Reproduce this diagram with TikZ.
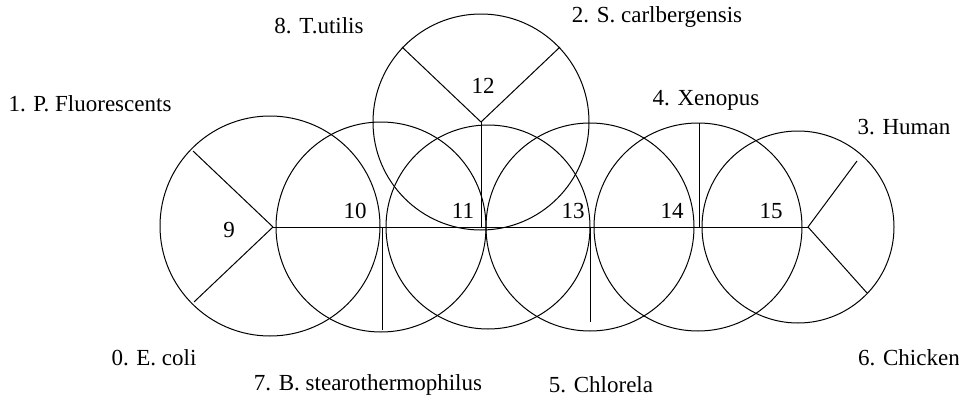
\documentclass[tikz,border=0pt]{standalone}
\usepackage{fontspec}
\setmainfont{Liberation Serif}
\usetikzlibrary{positioning,calc}
\begin{document}
\begin{tikzpicture}[x=0.5pt, y=-0.5pt, line width=0.5pt, font=\fontsize{11.5}{13}\selectfont]
\tikzstyle{lab}=[inner sep=0pt, anchor=center]
\tikzstyle{ring}=[draw=black]
\tikzstyle{edge}=[draw=black]
\useasboundingbox (0,0) rectangle (959,402);
% inner vertices
\coordinate (h9) at (273,227);
\coordinate (h10) at (382,227);
\coordinate (h11) at (481,227);
\coordinate (h12) at (481,122);
\coordinate (h13) at (590,227);
\coordinate (h14) at (699,227);
\coordinate (h15) at (808,227);
% leaf ends
\coordinate (l0) at (194,302);
\coordinate (l1) at (193,151);
\coordinate (l2) at (560,47);
\coordinate (l3) at (857,161);
\coordinate (l4) at (699,123);
\coordinate (l5) at (590,322);
\coordinate (l6) at (867,293);
\coordinate (l7) at (382,330);
\coordinate (l8) at (402,47);
% circles
\draw[ring] (270,226) circle[radius=55pt];
\draw[ring] (381,227) circle[radius=52.5pt];
\draw[ring] (488,227) circle[radius=51pt];
\draw[ring] (481,122) circle[radius=54pt];
\draw[ring] (590,227) circle[radius=52pt];
\draw[ring] (698,227) circle[radius=52pt];
\draw[ring] (798,227) circle[radius=48pt];
% tree
\draw[edge] (h9) -- (h10);
\draw[edge] (h10) -- (h11);
\draw[edge] (h11) -- (h13);
\draw[edge] (h13) -- (h14);
\draw[edge] (h14) -- (h15);
\draw[edge] (h11) -- (h12);
\draw[edge] (h9) -- (l1);
\draw[edge] (h9) -- (l0);
\draw[edge] (h10) -- (l7);
\draw[edge] (h12) -- (l8);
\draw[edge] (h12) -- (l2);
\draw[edge] (h13) -- (l5);
\draw[edge] (h14) -- (l4);
\draw[edge] (h15) -- (l3);
\draw[edge] (h15) -- (l6);
% numbers
\node[lab] (n9) at (229,230) {9};
\node[lab] (n10) at (355,211) {10};
\node[lab] (n11) at (463,211) {11};
\node[lab] (n12) at (483,86) {12};
\node[lab] (n13) at (573,211) {13};
\node[lab] (n14) at (672,211) {14};
\node[lab] (n15) at (771,211) {15};
% species
\node[lab] (t1) at (90,104) {1. P. Fluorescents};
\node[lab] (t0) at (154,358) {0. E. coli};
\node[lab] (t8) at (319,26) {8. T.utilis};
\node[lab] (t2) at (657,17) {2. S. carlbergensis};
\node[lab] (t4) at (706,100) {4. Xenopus};
\node[lab] (t3) at (904,127) {3. Human};
\node[lab] (t6) at (909,358) {6. Chicken};
\node[lab] (t7) at (368,385) {7. B. stearothermophilus};
\node[lab] (t5) at (601,385) {5. Chlorela};
\end{tikzpicture}
\end{document}
